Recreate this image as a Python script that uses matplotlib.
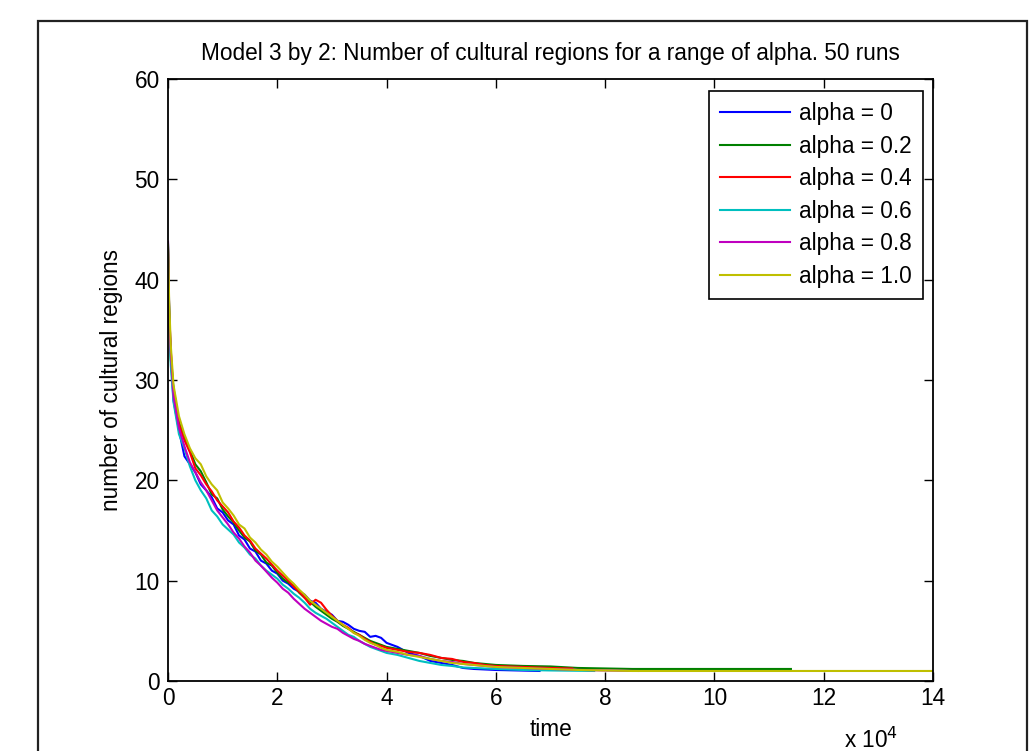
"""
    Model 3 by 2: average number of cultural regions over time, 50 runs
"""

import numpy as np
import matplotlib
matplotlib.use("Agg")
import matplotlib.pyplot as plt
from matplotlib.ticker import FuncFormatter

plt.rcParams['font.family'] = ['Liberation Sans', 'DejaVu Sans']

# time in units of 1e4 (shared grid up to 6e4)
time_grid = [0, 0.02, 0.05,
             0.1, 0.2, 0.3, 0.4, 0.5, 0.6, 0.7, 0.8, 0.9, 1.0,
             1.1, 1.2, 1.3, 1.4, 1.5, 1.6, 1.7, 1.8, 1.9, 2.0,
             2.1, 2.2, 2.3, 2.4, 2.5, 2.6, 2.7, 2.8, 2.9, 3.0,
             3.1, 3.2, 3.3, 3.4, 3.5, 3.6, 3.7, 3.8, 3.9, 4.0,
             4.2, 4.4, 4.6, 4.8, 5.0, 5.2, 5.4, 5.6, 5.8, 6.0]

labels = ['alpha = 0', 'alpha = 0.2', 'alpha = 0.4',
          'alpha = 0.6', 'alpha = 0.8', 'alpha = 1.0']

blue = [43.6, 37.5, 32.4,
        28.0, 25.0, 22.4, 21.6, 20.8, 19.6, 19.0, 18.3, 17.2, 16.8,
        16.0, 15.6, 14.5, 14.1, 13.2, 12.9, 12.0, 11.7, 11.0, 10.7,
        10.0, 9.7, 9.2, 8.9, 8.6, 8.0, 7.8, 7.2, 6.9, 6.6,
        6.0, 5.9, 5.6, 5.2, 5.0, 4.9, 4.4, 4.5, 4.3, 3.8,
        3.4, 2.8, 2.5, 2.0, 1.8, 1.6, 1.3, 1.2, 1.15, 1.1]
blue_tail_t = [6.4, 6.8]
blue_tail_y = [1.05, 1.0]

green = [43.2, 36.8, 32.0,
         29.2, 25.8, 24.3, 23.0, 21.6, 20.9, 19.8, 18.6, 18.2, 17.1,
         16.4, 15.8, 15.0, 14.3, 13.9, 13.0, 12.6, 11.8, 11.5, 10.8,
         10.2, 9.8, 9.5, 8.8, 8.3, 7.9, 7.4, 7.0, 6.6, 6.2,
         5.9, 5.5, 5.2, 4.9, 4.6, 4.3, 4.0, 3.8, 3.6, 3.4,
         3.2, 3.0, 2.8, 2.5, 2.3, 2.1, 2.0, 1.8, 1.7, 1.6]
green_tail_t = [6.5, 7.0, 7.5, 8.0, 8.5, 11.4]
green_tail_y = [1.5, 1.45, 1.3, 1.25, 1.2, 1.2]

red = [43.0, 37.2, 33.0,
       28.8, 25.6, 24.0, 22.8, 21.2, 20.5, 19.6, 18.9, 18.0, 17.4,
       16.8, 15.9, 15.3, 14.5, 14.0, 13.2, 12.7, 12.2, 11.6, 11.0,
       10.5, 10.0, 9.4, 8.9, 8.3, 7.6, 8.1, 7.8, 7.1, 6.5,
       6.0, 5.6, 5.3, 4.8, 4.6, 4.2, 3.9, 3.6, 3.5, 3.3,
       3.1, 2.9, 2.8, 2.6, 2.3, 2.2, 1.9, 1.8, 1.6, 1.5]
red_tail_t = [6.5, 7.0, 7.4]
red_tail_y = [1.4, 1.3, 1.25]

cyan = [43.4, 37.0, 31.5,
        27.8, 24.6, 23.2, 21.4, 20.0, 19.0, 18.2, 17.0, 16.4, 15.6,
        15.1, 14.6, 13.8, 13.3, 12.6, 12.2, 11.5, 11.0, 10.6, 10.2,
        9.6, 9.2, 8.7, 8.3, 7.8, 7.2, 6.8, 6.5, 6.2, 5.8,
        5.4, 5.0, 4.6, 4.4, 4.0, 3.7, 3.4, 3.2, 3.0, 2.8,
        2.6, 2.3, 2.0, 1.8, 1.6, 1.5, 1.35, 1.3, 1.25, 1.2]
cyan_tail_t = [6.5, 7.0, 7.8]
cyan_tail_y = [1.1, 1.05, 1.0]

magenta = [43.8, 36.0, 32.8,
           28.4, 25.2, 23.4, 21.8, 20.8, 19.8, 19.0, 18.0, 17.0, 16.3,
           15.6, 14.8, 14.2, 13.4, 12.8, 12.0, 11.5, 10.9, 10.3, 9.8,
           9.2, 8.8, 8.2, 7.7, 7.2, 6.8, 6.4, 6.0, 5.7, 5.4,
           5.2, 4.8, 4.5, 4.2, 4.0, 3.7, 3.5, 3.3, 3.1, 3.0,
           2.8, 2.6, 2.5, 2.2, 2.0, 1.9, 1.7, 1.6, 1.5, 1.4]
magenta_tail_t = [6.5, 7.0, 7.6, 8.0, 8.6]
magenta_tail_y = [1.3, 1.2, 1.1, 1.05, 1.0]

yellow = [43.5, 38.0, 33.5,
          29.5, 26.4, 24.6, 23.2, 22.2, 21.6, 20.4, 19.6, 19.0, 17.8,
          17.2, 16.5, 15.6, 15.2, 14.3, 13.8, 13.1, 12.6, 11.9, 11.4,
          10.8, 10.2, 9.7, 9.1, 8.6, 8.0, 7.6, 7.2, 6.8, 6.4,
          6.0, 5.6, 5.2, 4.8, 4.5, 4.1, 3.8, 3.6, 3.3, 3.1,
          2.9, 2.6, 2.4, 2.2, 2.0, 1.8, 1.7, 1.6, 1.5, 1.4]
yellow_tail_t = [6.5, 7.0, 7.5, 8.0, 8.5, 14.0]
yellow_tail_y = [1.3, 1.2, 1.1, 1.05, 1.0, 1.0]

series = [(blue, blue_tail_t, blue_tail_y, (0, 0, 1)),
          (green, green_tail_t, green_tail_y, (0, 0.5, 0)),
          (red, red_tail_t, red_tail_y, (1, 0, 0)),
          (cyan, cyan_tail_t, cyan_tail_y, (0, 0.75, 0.75)),
          (magenta, magenta_tail_t, magenta_tail_y, (0.75, 0, 0.75)),
          (yellow, yellow_tail_t, yellow_tail_y, (0.75, 0.75, 0))]

fontsize = 16.3

fig = plt.figure(figsize=(10.34, 7.51), dpi=100)
ax = fig.add_axes([0.1625, 0.0932, 0.7398, 0.8016])

for (vals, tt, ty, col), lab in zip(series, labels):
    t = np.array(time_grid + tt) * 1e4
    y = np.array(vals + ty)
    ax.plot(t, y, color=col, lw=1.5, label=lab)

ax.set_xlim(0, 14e4)
ax.set_ylim(0, 60)
ax.set_xticks(np.arange(0, 15e4, 2e4))
ax.set_yticks(np.arange(0, 61, 10))
ax.xaxis.set_major_formatter(FuncFormatter(lambda v, p: '%d' % round(v / 1e4)))
ax.tick_params(direction='in', length=6.5, width=1, top=True, right=True,
               labelsize=fontsize, pad=4)
ax.tick_params(axis='y', pad=6)
for s in ax.spines.values():
    s.set_linewidth(1.3)

ax.text(0.5, 1.043, 'Model 3 by 2: Number of cultural regions for a range of alpha. 50 runs',
        transform=ax.transAxes, ha='center', va='center', fontsize=fontsize)
ax.set_xlabel('time', fontsize=fontsize, labelpad=6)
ax.set_ylabel('number of cultural regions', fontsize=fontsize, labelpad=8)
fig.text(898 / 1034, 1 - 740 / 751, 'x 10$^4$', ha='right', va='center',
         fontsize=fontsize)

leg = ax.legend(loc='upper right', bbox_to_anchor=(923 / 1034, 1 - 91 / 751),
                bbox_transform=fig.transFigure, borderaxespad=0,
                fancybox=False, framealpha=1, edgecolor='black',
                fontsize=fontsize, handlelength=3.1, handletextpad=0.38,
                labelspacing=0.42, borderpad=0.5)
leg.get_frame().set_linewidth(1.2)

# outer frame of the figure window
fig.add_artist(plt.Rectangle((38 / 1034, -0.05), (1027 - 38) / 1034, 0.05 + 1 - 21 / 751,
                             transform=fig.transFigure, fill=False,
                             edgecolor='#222222', lw=1.6))

fig.savefig('out.png', dpi=100)
